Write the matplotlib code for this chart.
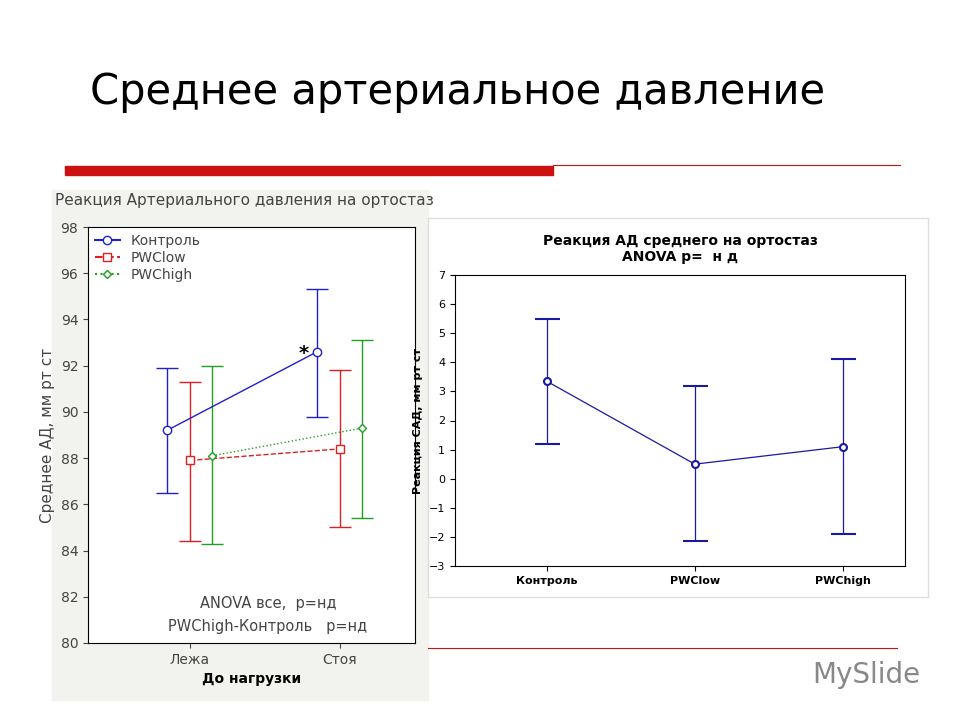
import matplotlib.pyplot as plt
import matplotlib.patches as mpatches
from matplotlib.lines import Line2D

# left chart data
left_x_labels = ['Лежа', 'Стоя']
left_series = ['Контроль', 'PWClow', 'PWChigh']
left_means = [[89.2, 92.6], [87.9, 88.4], [88.1, 89.3]]
left_lo = [[86.5, 89.8], [84.4, 85.0], [84.3, 85.4]]
left_hi = [[91.9, 95.3], [91.3, 91.8], [92.0, 93.1]]
left_offsets = [-0.153, 0.0, 0.147]
left_colors = ['#2020d0', '#e02020', '#20a020']
left_markers = ['o', 's', 'D']
left_styles = ['-', '--', ':']

# right chart data
right_groups = ['Контроль', 'PWClow', 'PWChigh']
right_means = [3.35, 0.5, 1.1]
right_lo = [1.2, -2.15, -1.9]
right_hi = [5.5, 3.2, 4.1]

W, H = 960, 720
fig = plt.figure(figsize=(9.6, 7.2), dpi=100)

def box(x0, y0, x1, y1):
    return [x0 / W, 1 - y1 / H, (x1 - x0) / W, (y1 - y0) / H]

fig.text(90 / W, 1 - 92 / H, 'Среднее артериальное давление', fontsize=30,
         va='center', color='black', family='DejaVu Sans')
fig.add_artist(mpatches.Rectangle((65 / W, 1 - 175 / H), (553 - 65) / W, 9 / H,
                                  color='#cc1111', transform=fig.transFigure))
fig.add_artist(plt.Line2D([553 / W, 900 / W], [1 - 165 / H] * 2, color='#cc1111', lw=0.8))
fig.add_artist(plt.Line2D([428 / W, 897 / W], [1 - 648 / H] * 2, color='#cc1111', lw=0.8))

# panel backgrounds
fig.add_artist(mpatches.Rectangle((52 / W, 1 - 700 / H), (428 - 52) / W, (700 - 190) / H,
                                  color='#f2f2ee', transform=fig.transFigure, zorder=0))
fig.add_artist(mpatches.Rectangle((428 / W, 1 - 597 / H), (928 - 428) / W, (597 - 218) / H,
                                  color='white', ec='#dddddd', transform=fig.transFigure, zorder=0))

fig.text(55 / W, 1 - 200 / H, 'Реакция Артериального давления на ортостаз',
         fontsize=11, va='center', color='#444444')

ax = fig.add_axes(box(88, 227, 415, 643))
ax.set_facecolor('white')
handles = []
for i, name in enumerate(left_series):
    xs = [j + left_offsets[i] for j in range(2)]
    yerr = [[m - l for m, l in zip(left_means[i], left_lo[i])],
            [h - m for m, h in zip(left_means[i], left_hi[i])]]
    ms = 6 if i < 2 else 4
    ax.errorbar(xs, left_means[i], yerr=yerr, color=left_colors[i], ls=left_styles[i],
                marker=left_markers[i], ms=ms, mfc='white',
                mec=left_colors[i], capsize=8, lw=1)
    handles.append(Line2D([], [], color=left_colors[i], ls=left_styles[i],
                          marker=left_markers[i], ms=ms, mfc='white', label=name))
ax.text(1 - 0.153 - 0.12, 92.3, '*', fontsize=14, fontweight='bold')
ax.set_xlim(-0.68, 1.5)
ax.set_ylim(80, 98)
ax.set_yticks(range(80, 99, 2))
ax.set_xticks([0, 1])
ax.set_xticklabels(left_x_labels)
ax.tick_params(labelsize=10, colors='#444444')
ax.set_ylabel('Среднее АД, мм рт ст', fontsize=11, color='#444444')
ax.set_xlabel('До нагрузки', fontsize=10, fontweight='bold')
ax.legend(handles=handles, loc='upper left', frameon=False, fontsize=10, handlelength=1.8,
          borderaxespad=0.1, labelspacing=0.2, labelcolor='#444444')
ax.text(0.55, 0.085, 'ANOVA все,  p=нд', transform=ax.transAxes, ha='center',
        fontsize=10.5, color='#444444')
ax.text(0.55, 0.03, 'PWChigh-Контроль   p=нд', transform=ax.transAxes, ha='center',
        fontsize=10.5, color='#444444')

ax2 = fig.add_axes(box(455, 275, 905, 566))
xs = list(range(len(right_groups)))
yerr = [[m - l for m, l in zip(right_means, right_lo)],
        [h - m for m, h in zip(right_means, right_hi)]]
ax2.errorbar(xs, right_means, yerr=yerr, color='#1a1aa0', marker='o', ms=5,
             mfc='white', mec='#1a1aa0', mew=1.5, capsize=9, lw=0.9)
ax2.set_xlim(-0.62, 2.42)
ax2.set_ylim(-3, 7)
ax2.set_yticks(range(-3, 8))
ax2.set_xticks(xs)
ax2.set_xticklabels(right_groups, fontweight='bold')
ax2.tick_params(labelsize=8)
ax2.set_ylabel('Реакция САД, мм рт ст', fontsize=8, fontweight='bold')
ax2.set_title('Реакция АД среднего на ортостаз\nANOVA p=  н д', fontsize=10,
              pad=10, fontweight='bold')

fig.text(920 / W, 1 - 675 / H, 'MySlide', fontsize=20, ha='right', va='center',
         color='#888888')

fig.savefig('out.png', dpi=100)
